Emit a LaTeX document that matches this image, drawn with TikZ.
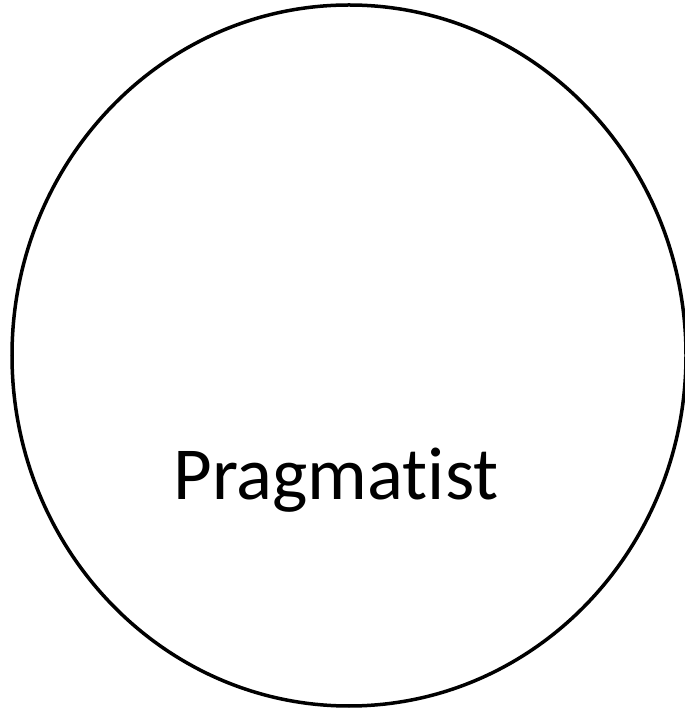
\documentclass[tikz,border=0pt]{standalone}
\usepackage{fontspec}
\setmainfont{Carlito}[Ligatures=NoCommon]
\usetikzlibrary{shapes.geometric}

\begin{document}
\begin{tikzpicture}[
  ring/.style={
    ellipse,
    draw=black,
    line width=0.035cm,
    inner sep=0pt,
    minimum width=6.74cm,
    minimum height=7.01cm
  },
  word/.style={
    anchor=base,
    inner sep=0pt,
    font=\fontsize{21.3pt}{25pt}\selectfont
  }
]
  \useasboundingbox (0,0) rectangle (6.84,7.10);
  \node[ring] (circle) at (3.49,3.545) {};
  \node[word] (pragmatist) at (3.36,2.10) {Pragmatist};
\end{tikzpicture}
\end{document}
